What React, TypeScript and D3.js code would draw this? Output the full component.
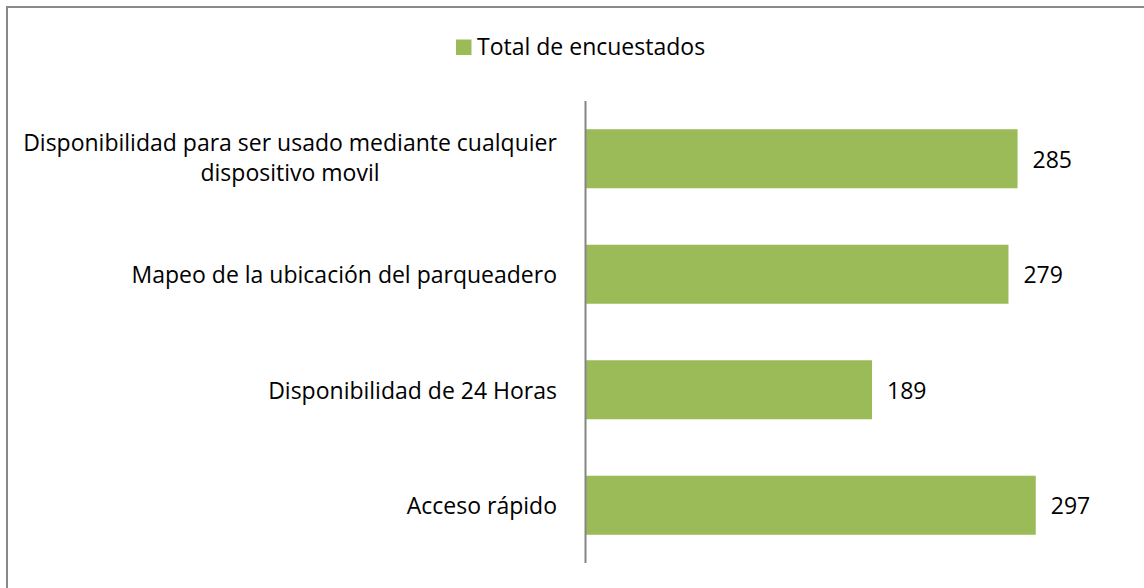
import React from "react";
import * as d3 from "d3";

const categories: string[][] = [
  ["Disponibilidad para ser usado mediante cualquier", "dispositivo movil"],
  ["Mapeo de la ubicación del parqueadero"],
  ["Disponibilidad de 24 Horas"],
  ["Acceso rápido"],
];
const values: number[] = [285, 279, 189, 297];
const seriesName = "Total de encuestados";

const W = 1144;
const H = 588;
const FONT = "'Open Sans', sans-serif";
const FS = 23;
const GREEN = "#9BBB59";

export default function App() {
  const keys = categories.map((c) => c.join(" "));
  const y = d3.scaleBand<string>().domain(keys).range([101, 563]).paddingInner(0.489).paddingOuter(0.2445);
  const x = d3.scaleLinear().domain([0, 300]).range([585.5, 1040.3]);
  const bw = y.bandwidth();

  return (
    <svg width={W} height={H} style={{ position: "absolute", left: 0, top: 0 }} fontFamily={FONT}>
      <rect x={0} y={0} width={W} height={H} fill="#fff" />
      <rect x={7} y={7} width={W + 40} height={H + 40} fill="none" stroke="#898989" strokeWidth={2} />
      {/* legend */}
      <rect x={456} y={39.5} width={15.5} height={15.5} fill={GREEN} />
      <text x={477} y={54.5} fontSize={FS} fill="#000">{seriesName}</text>
      {/* bars */}
      {values.map((v, i) => {
        const k = keys[i];
        const y0 = y(k)!;
        const cy = y0 + bw / 2;
        const lines = categories[i];
        return (
          <g key={k}>
            <rect x={x(0)} y={y0} width={x(v) - x(0)} height={bw} fill={GREEN} />
            <text x={x(v) + 15} y={cy + 9.2} fontSize={FS} fill="#000">{v}</text>
            {lines.length === 1 ? (
              <text x={557} y={cy + 9.2} fontSize={FS} textAnchor="end" fill="#000">{lines[0]}</text>
            ) : (
              lines.map((ln, j) => (
                <text key={j} x={290} y={cy + 7.7 + (j - (lines.length - 1) / 2) * 30} fontSize={FS} textAnchor="middle" fill="#000">{ln}</text>
              ))
            )}
          </g>
        );
      })}
      <line x1={x(0)} x2={x(0)} y1={101} y2={563} stroke="#868686" strokeWidth={2} />
    </svg>
  );
}
